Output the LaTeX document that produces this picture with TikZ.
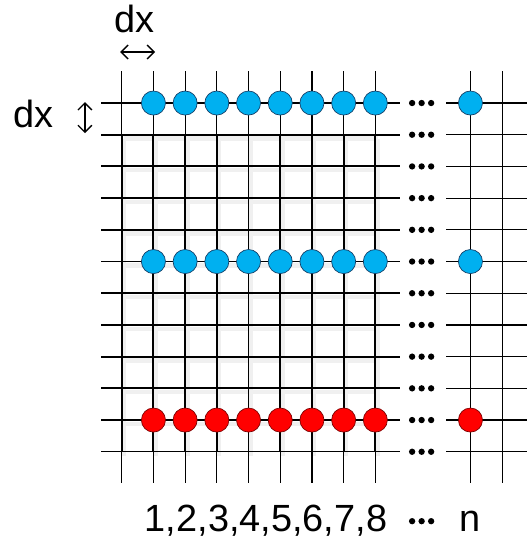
\documentclass[tikz,border=0pt]{standalone}
\usepackage{fontspec}
\setmainfont{Liberation Sans}
\usepackage{xcolor}
\usetikzlibrary{arrows.meta, positioning}
\definecolor{cellblue}{RGB}{0,176,240}
\definecolor{celledge}{RGB}{20,60,100}
\definecolor{rededge}{RGB}{120,0,0}

\begin{document}
\begin{tikzpicture}[
    x=1cm, y=1cm,
    font=\fontsize{34}{40}\selectfont,
    wire/.style={draw, line width=1.1pt},
    thickwire/.style={draw, line width=1.7pt},
    shadowwire/.style={draw=black!6, line width=4pt},
    bluecell/.style={circle, draw=celledge, fill=cellblue, line width=0.6pt, minimum size=0.76cm, inner sep=0pt},
    redcell/.style={circle, draw=rededge, fill=red, line width=0.6pt, minimum size=0.76cm, inner sep=0pt},
    arrow/.style={{Straight Barb[length=2.2mm, width=4.4mm]}-{Straight Barb[length=2.2mm, width=4.4mm]}, line width=1.2pt}
]
\useasboundingbox (-3.84,3.25) rectangle (12.79,-13.91);

% Shadow under the inner block
\begin{scope}[shift={(0.07,-0.12)}]
\foreach \j in {1,...,10} \draw[shadowwire] (0,-\j) -- (8,-\j);
\foreach \i in {0,...,8} \draw[shadowwire] (\i,-1) -- (\i,-11);
\end{scope}

% Grid rows, with the gap
\foreach \j in {0,...,11} {
    \draw[wire] (-0.65,-\j) -- (8.78,-\j);
    \draw[wire] (10.23,-\j) -- (12.79,-\j);
    \foreach \k in {9.16,9.46,9.76} \fill (\k,-\j) circle (0.1);
}

% Grid columns
\foreach \i in {0,...,8,11,12} \draw[wire] (\i,1) -- (\i,-12);

% Inner block
\foreach \j in {1,...,10} \draw[thickwire] (-0.65,-\j) -- (8.78,-\j);
\foreach \i in {0,...,8} \draw[thickwire] (\i,-1) -- (\i,-11);

% Cells
\foreach \i in {1,...,8} {
    \node[bluecell] (top\i) at (\i,0) {};
    \node[bluecell] (mid\i) at (\i,-5) {};
    \node[redcell] (bot\i) at (\i,-10) {};
}
\node[bluecell] (topn) at (11,0) {};
\node[bluecell] (midn) at (11,-5) {};
\node[redcell] (botn) at (11,-10) {};

% Spacing marks
\node[anchor=base] (dxtop) at (0.39,2.21) {dx};
\coordinate (hl) at (-0.05,1.61);
\coordinate (hr) at (1.05,1.61);
\draw[arrow] (hl) -- (hr);

\node[anchor=base] (dxleft) at (-2.77,-0.76) {dx};
\coordinate (vt) at (-1.16,0.03);
\coordinate (vb) at (-1.16,-0.95);
\draw[arrow] (vt) -- (vb);

% Column numbers
\node[anchor=base] (colnums) at (4.55,-13.5) {1,2,3,4,5,6,7,8};
\foreach \k in {9.16,9.46,9.76} \fill (\k,-13.19) circle (0.1);
\node[anchor=base] (coln) at (11,-13.5) {n};

\end{tikzpicture}
\end{document}
